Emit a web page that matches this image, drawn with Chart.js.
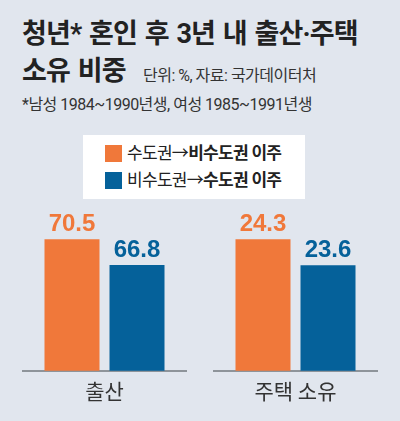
<!DOCTYPE html>
<html lang="ko">
<head>
<meta charset="utf-8">
<script src="https://cdn.jsdelivr.net/npm/chart.js@4.4.1/dist/chart.umd.min.js"></script>
<style>
  html, body { margin: 0; padding: 0; }
  body {
    width: 400px; height: 421px; position: relative; overflow: hidden;
    background: #e1e6ee; font-family: Roboto, "Noto Sans CJK KR", sans-serif; color: #222;
  }
  .t { position: absolute; white-space: nowrap; }
  .title { font-size: 27px; line-height: 27px; font-weight: 700; letter-spacing: -0.9px; word-spacing: 2px; }
  .unit { font-size: 16px; line-height: 16px; color: #333; letter-spacing: -0.5px; }
  .note { font-size: 16px; line-height: 16px; color: #333; letter-spacing: -0.5px; }
  .legend { position: absolute; left: 83px; top: 135px; width: 222px; height: 64px; background: #fff; }
  .legend div { position: absolute; left: 22px; font-size: 17px; line-height: 17px; letter-spacing: -0.7px; color: #222; white-space: nowrap; }
  .legend span.sw { display: inline-block; width: 17px; height: 17px; vertical-align: top; margin-right: 5px; }
  .legend b { font-weight: 700; }
  canvas { position: absolute; }
</style>
</head>
<body>
<div class="t title" style="left:22px;top:21px">청년* 혼인 후 3년 내 출산·주택</div>
<div class="t title" style="left:22px;top:58px">소유 비중</div>
<div class="t unit" style="left:143px;top:68px">단위: %, 자료: 국가데이터처</div>
<div class="t note" style="left:22px;top:97px">*남성 1984~1990년생, 여성 1985~1991년생</div>

<div class="legend">
  <div style="top:10px"><span class="sw" style="background:#f0783a"></span>수도권→<b>비수도권 이주</b></div>
  <div style="top:37px"><span class="sw" style="background:#05619a"></span>비수도권→<b>수도권 이주</b></div>
</div>

<canvas id="c0" style="left:22px;top:200px" width="165" height="212"></canvas>
<canvas id="c1" style="left:213px;top:200px" width="165" height="212"></canvas>

<script>
const categories = ['출산', '주택 소유'];
const capitalToNonCapital = [70.5, 24.3];
const nonCapitalToCapital = [66.8, 23.6];
const axisMin = [51.7, 20.75];
const axisMax = [76.1, 25.36];

const orange = '#f0783a';
const blue = '#05619a';

// draw the value above each bar
const valueLabels = {
  id: 'valueLabels',
  afterDatasetsDraw(chart) {
    const ctx = chart.ctx;
    ctx.save();
    ctx.font = 'bold 24px "Liberation Sans", Arial, sans-serif';
    ctx.textAlign = 'center';
    ctx.textBaseline = 'alphabetic';
    chart.data.datasets.forEach((ds, i) => {
      chart.getDatasetMeta(i).data.forEach((bar, j) => {
        ctx.fillStyle = ds.backgroundColor;
        ctx.fillText(ds.data[j].toFixed(1), bar.x, bar.y - 8);
      });
    });
    ctx.restore();
  }
};

categories.forEach((cat, i) => {
  new Chart(document.getElementById('c' + i), {
    type: 'bar',
    data: {
      labels: [cat],
      datasets: [
        { label: '수도권→비수도권 이주', data: [capitalToNonCapital[i]], backgroundColor: orange },
        { label: '비수도권→수도권 이주', data: [nonCapitalToCapital[i]], backgroundColor: blue }
      ]
    },
    options: {
      responsive: false,
      animation: false,
      events: [],
      layout: { padding: 0 },
      categoryPercentage: 0.788,
      barPercentage: 0.846,
      plugins: { legend: { display: false }, tooltip: { enabled: false } },
      scales: {
        x: {
          grid: { display: false, drawTicks: false },
          border: { display: true, color: '#8e949a', width: 2 },
          ticks: { color: '#333', padding: 8, font: { family: '"Noto Sans CJK KR"', size: 21 } }
        },
        y: {
          display: false,
          beginAtZero: false,
          min: axisMin[i],
          max: axisMax[i]
        }
      }
    },
    plugins: [valueLabels]
  });
});
</script>
</body>
</html>
